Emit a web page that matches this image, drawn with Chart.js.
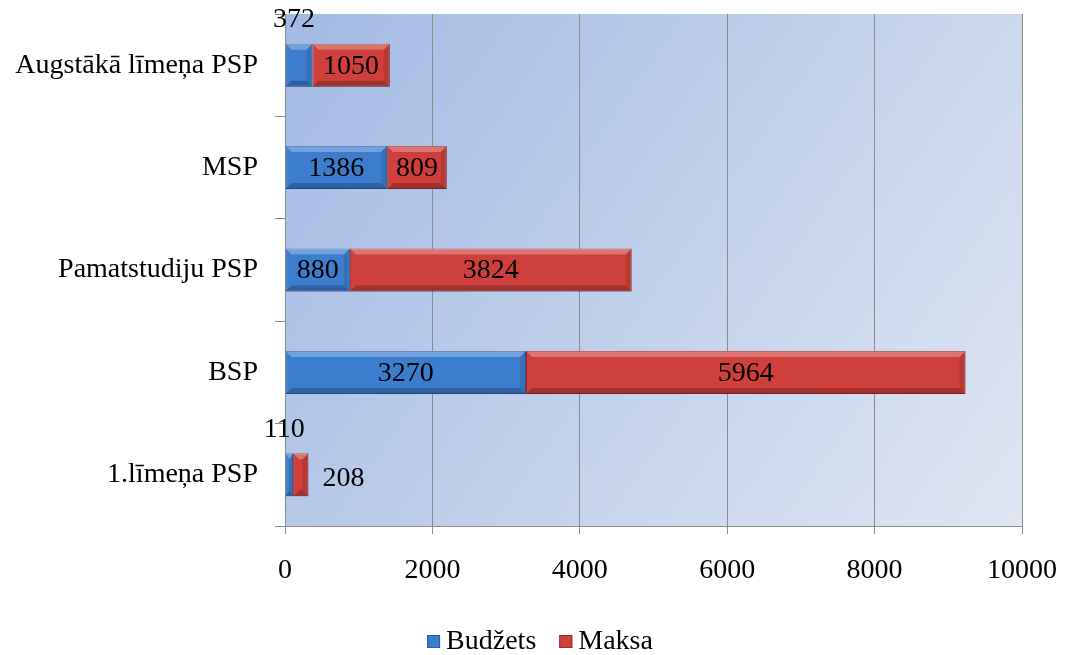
<!DOCTYPE html>
<html>
<head>
<meta charset="utf-8">
<script src="https://cdn.jsdelivr.net/npm/chart.js@4"></script>
<style>
  html, body { margin: 0; padding: 0; background: #fff; overflow: hidden; }
  #wrap { width: 1068px; height: 668px; }
</style>
</head>
<body>
<div id="wrap"><canvas id="chart" width="1068" height="668"></canvas></div>
<script>
const kategorijas = ['Augstākā līmeņa PSP', 'MSP', 'Pamatstudiju PSP', 'BSP', '1.līmeņa PSP'];
const budzets = [372, 1386, 880, 3270, 110];
const maksa = [1050, 809, 3824, 5964, 208];
const xTicks = [0, 2000, 4000, 6000, 8000, 10000];

const FONT = '"Liberation Serif", "Times New Roman", serif';

// fons zīmēšanas laukumam
const fonsPlugin = {
    id: 'fons',
    beforeDraw(chart) {
        const { ctx, chartArea: a } = chart;
        const g = ctx.createLinearGradient(a.left, a.top, a.right, a.bottom);
        g.addColorStop(0, '#a2bae4');
        g.addColorStop(1, '#dfe6f3');
        ctx.save();
        ctx.fillStyle = g;
        ctx.fillRect(a.left, a.top, a.right - a.left, a.bottom - a.top);
        ctx.restore();
    }
};

// stabiņu slīpinājums + vērtību uzraksti
const uzrakstiPlugin = {
    id: 'uzraksti',
    afterDatasetsDraw(chart) {
        const { ctx } = chart;
        ctx.save();
        chart.data.datasets.forEach((ds, di) => {
            chart.getDatasetMeta(di).data.forEach(el => {
                const x0 = el.base, x1 = el.x, y0 = el.y - el.height / 2, y1 = el.y + el.height / 2;
                const b = Math.min(6, (x1 - x0) / 2);
                ctx.fillStyle = 'rgba(255,255,255,0.28)';
                ctx.beginPath();
                ctx.moveTo(x0, y0); ctx.lineTo(x1, y0); ctx.lineTo(x1 - b, y0 + 6); ctx.lineTo(x0 + b, y0 + 6);
                ctx.fill();
                ctx.fillStyle = 'rgba(0,0,0,0.22)';
                ctx.beginPath();
                ctx.moveTo(x0, y1); ctx.lineTo(x1, y1); ctx.lineTo(x1 - b, y1 - 6); ctx.lineTo(x0 + b, y1 - 6);
                ctx.fill();
                ctx.fillStyle = 'rgba(0,0,0,0.10)';
                ctx.beginPath();
                ctx.moveTo(x1, y0); ctx.lineTo(x1, y1); ctx.lineTo(x1 - b, y1 - 6); ctx.lineTo(x1 - b, y0 + 6);
                ctx.fill();
            });
        });
        ctx.font = '28px ' + FONT;
        ctx.fillStyle = '#000';
        ctx.textBaseline = 'middle';
        chart.data.datasets.forEach((ds, di) => {
            const meta = chart.getDatasetMeta(di);
            meta.data.forEach((el, i) => {
                const txt = String(ds.data[i]);
                const w = el.x - el.base;
                const tw = ctx.measureText(txt).width;
                if (w > tw + 8) {
                    ctx.textAlign = 'center';
                    ctx.fillText(txt, (el.x + el.base) / 2, el.y + 1);
                } else if (di === 0) {
                    ctx.textAlign = 'center';
                    ctx.fillText(txt, (el.x + el.base) / 2 - 5, el.y - el.height / 2 - 24);
                } else {
                    ctx.textAlign = 'left';
                    ctx.fillText(txt, el.x + 14, el.y + 4);
                }
            });
        });
        ctx.restore();
    }
};

// leģenda apakšā
const legendaPlugin = {
    id: 'legenda',
    afterDraw(chart) {
        const { ctx } = chart;
        ctx.save();
        ctx.font = '28px ' + FONT;
        ctx.textBaseline = 'middle';
        ctx.textAlign = 'left';
        const items = chart.data.datasets.map(ds => ({ t: ds.label, c: ds.backgroundColor, b: ds.borderColor }));
        const gapBox = 6, gapItem = 23, box = 13;
        let total = 0;
        items.forEach((it, i) => { total += box + gapBox + ctx.measureText(it.t).width + (i ? gapItem : 0); });
        let x = 540 - total / 2;
        const yc = 642;
        items.forEach(it => {
            ctx.fillStyle = it.c;
            ctx.fillRect(x, yc - 7, box, box);
            ctx.strokeStyle = it.b;
            ctx.strokeRect(x + 0.5, yc - 6.5, box - 1, box - 1);
            x += box + gapBox;
            ctx.fillStyle = '#000';
            ctx.fillText(it.t, x, yc);
            x += ctx.measureText(it.t).width + gapItem;
        });
        ctx.restore();
    }
};

new Chart(document.getElementById('chart'), {
    type: 'bar',
    data: {
        labels: kategorijas,
        datasets: [
            {
                label: 'Budžets',
                data: budzets,
                backgroundColor: '#3d7dcd',
                borderColor: '#2c5d9e',
                borderWidth: 1,
                borderSkipped: false,
                categoryPercentage: 1,
                barPercentage: 0.42
            },
            {
                label: 'Maksa',
                data: maksa,
                backgroundColor: '#cf3f3b',
                borderColor: '#9a2b28',
                borderWidth: 1,
                borderSkipped: false,
                categoryPercentage: 1,
                barPercentage: 0.42
            }
        ]
    },
    options: {
        indexAxis: 'y',
        responsive: false,
        animation: false,
        layout: { padding: { left: 0, right: 46, top: 14, bottom: 49 } },
        scales: {
            x: {
                stacked: true,
                min: 0, max: 10000,
                afterBuildTicks: s => { s.ticks = xTicks.map(v => ({ value: v })); },
                afterFit: s => { s.height = 93; s.paddingLeft = 0; s.paddingRight = 0; },
                grid: { color: '#8c8c8c', lineWidth: 1, tickLength: 8, drawTicks: true },
                border: { color: '#8c8c8c' },
                ticks: {
                    color: '#000', padding: 20,
                    font: { family: FONT, size: 28 },
                    callback: v => String(v)
                }
            },
            y: {
                stacked: true,
                afterFit: s => { s.width = 285; s.paddingTop = 0; s.paddingBottom = 0; },
                grid: { offset: true, drawOnChartArea: false, tickLength: 10, color: '#8c8c8c' },
                border: { color: '#8c8c8c' },
                ticks: { color: '#000', padding: 17, font: { family: FONT, size: 28 } }
            }
        },
        plugins: {
            legend: { display: false },
            tooltip: { enabled: false }
        }
    },
    plugins: [fonsPlugin, uzrakstiPlugin, legendaPlugin]
});
</script>
</body>
</html>
